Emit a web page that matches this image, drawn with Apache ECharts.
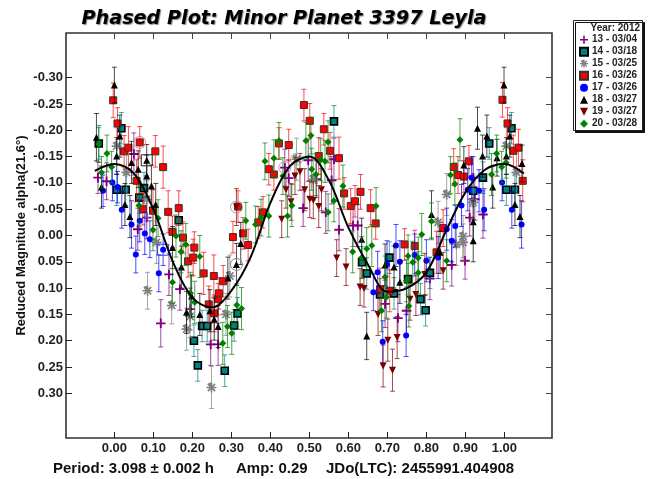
<!DOCTYPE html>
<html><head><meta charset="utf-8">
<style>html,body{margin:0;padding:0;background:#fff}#c{width:651px;height:479px;filter:blur(.35px)}</style>
<script src="https://cdn.jsdelivr.net/npm/echarts@6/dist/echarts.min.js"></script>
</head><body><div id="c"></div>
<script>
// [phase, reduced magnitude, error]
const s13 = [[-.042,-.11,.03],[-.02,-.103,.035],[.05,-.155,.04],[.06,-.012,.04],[.083,-.034,.04],[.119,.167,.045],[.14,.074,.04],[.168,.102,.04],[.194,.14,.04],[.247,.207,.04],[.266,.207,.04],[.437,-.129,.035],[.447,-.109,.035],[.484,-.052,.035],[.497,-.143,.04],[.518,-.107,.035],[.542,-.044,.04],[.557,-.105,.045],[.563,-.145,.04],[.576,-.011,.04],[.612,-.019,.04],[.624,-.019,.04],[.694,.13,.045],[.727,.157,.045],[.749,.143,.045],[.809,.082,.04],[.865,.056,.04],[.899,.048,.035],[.911,-.034,.035],[.92,-.11,.04],[.924,-.069,.04],[.945,-.04,.045]];
const s14 = [[-.04,-.175,.03],[.006,-.087,.03],[.018,-.204,.03],[.029,-.087,.03],[.064,-.072,.03],[.076,-.09,.03],[.165,-.029,.03],[.204,.2,.03],[.214,.247,.03],[.225,.172,.03],[.238,.172,.03],[.283,.257,.03],[.307,.171,.03],[.316,.148,.03],[.563,-.217,.03],[.635,.051,.03],[.647,.072,.03],[.681,.112,.03],[.705,.042,.03],[.717,.11,.03],[.753,.083,.03],[.785,.121,.03],[.798,.142,.03],[.809,.071,.03],[.92,-.085,.03],[.945,-.11,.03],[.961,-.175,.03],[1.005,-.087,.03],[1.018,-.204,.03],[1.027,-.087,.03]];
const s15 = [[.006,-.17,.035],[.031,-.12,.04],[.083,-.069,.035],[.085,.105,.035],[.108,.013,.04],[.147,.133,.035],[.185,.178,.04],[.194,.154,.04],[.249,.289,.04],[.286,.15,.04],[.296,.077,.04],[.467,-.145,.04],[.51,-.107,.04],[.83,-.025,.04],[.852,-.078,.04],[.877,.017,.04],[.894,.002,.04],[.894,.013,.035],[.92,-.063,.04],[1.005,-.17,.035],[1.031,-.12,.04]];
const s16 = [[-.003,-.257,.033],[.008,-.213,.03],[.025,-.16,.03],[.036,-.167,.04],[.057,-.104,.04],[.065,-.177,.03],[.073,-.05,.03],[.099,-.047,.04],[.105,-.16,.03],[.125,-.13,.04],[.138,-.045,.04],[.149,-.007,.03],[.165,-.052,.033],[.176,.004,.03],[.189,.049,.03],[.202,.042,.035],[.205,.023,.03],[.229,.072,.04],[.242,.131,.035],[.255,.077,.04],[.256,.148,.035],[.266,.121,.03],[.268,.11,.03],[.279,.087,.03],[.304,.003,.03],[.317,-.055,.03],[.33,-.004,.03],[.343,.018,.03],[.369,-.025,.03],[.381,-.044,.03],[.396,-.126,.03],[.409,-.116,.03],[.422,-.175,.03],[.447,-.172,.03],[.486,-.248,.03],[.501,-.218,.033],[.524,-.151,.035],[.537,-.202,.03],[.553,-.161,.035],[.576,-.147,.04],[.589,-.08,.03],[.606,-.056,.033],[.617,-.065,.03],[.631,-.083,.033],[.657,-.052,.035],[.67,-.023,.03],[.681,.102,.04],[.706,.105,.04],[.744,.017,.03],[.77,.02,.03],[.826,.032,.04],[.843,-.014,.035],[.87,-.13,.035],[.881,-.115,.035],[.896,-.112,.03],[.909,-.141,.03],[.995,-.258,.033],[1.008,-.213,.03],[1.023,-.161,.03],[1.036,-.167,.035],[1.047,-.104,.04]];
const s17 = [[-.029,-.085,.03],[-.005,-.101,.035],[.008,-.092,.03],[.019,-.049,.035],[.044,-.021,.045],[.055,.036,.035],[.065,-.028,.04],[.078,-.004,.04],[.091,.007,.035],[.114,.072,.035],[.125,.027,.03],[.664,.108,.035],[.675,.07,.04],[.688,.202,.04],[.699,.055,.045],[.722,.019,.04],[.732,.05,.04],[.748,.19,.04],[.77,.037,.04],[.80,.048,.04],[.83,.042,.04],[.852,-.012,.04],[.865,.01,.04],[.874,-.018,.04],[.89,-.057,.04],[.906,-.087,.04],[.916,-.11,.04],[.935,-.085,.04],[.948,-.049,.04],[.994,-.101,.035],[1.019,-.049,.035],[1.044,-.021,.045]];
const s18 = [[-.046,-.187,.045],[-.033,-.092,.04],[0,-.286,.034],[.006,-.151,.035],[.014,-.189,.04],[.027,-.059,.04],[.04,-.036,.04],[.044,-.139,.04],[.061,-.126,.035],[.083,-.113,.04],[.083,-.143,.03],[.095,-.094,.04],[.106,-.059,.04],[.149,.023,.04],[.172,.06,.04],[.185,.146,.04],[.198,.115,.04],[.219,.15,.04],[.245,.143,.04],[.256,.159,.04],[.266,.173,.04],[.291,.081,.04],[.313,.055,.04],[.324,.015,.04],[.634,.007,.04],[.647,.191,.045],[.694,.056,.04],[.717,.06,.04],[.732,.089,.04],[.813,-.04,.045],[.835,.032,.04],[.896,-.134,.035],[.92,-.026,.04],[.92,.01,.04],[.931,-.204,.04],[.944,-.151,.04],[.955,-.189,.04],[.97,-.092,.04],[.981,-.148,.035],[.999,-.286,.034],[1.005,-.151,.035],[1.014,-.189,.04],[1.027,-.059,.04],[1.04,-.036,.04],[1.045,-.137,.035]];
const s19 = [[.313,-.054,.035],[.429,-.031,.035],[.44,-.087,.035],[.453,-.064,.035],[.463,-.113,.035],[.476,-.121,.035],[.488,-.087,.04],[.501,-.069,.035],[.51,-.067,.035],[.524,-.055,.04],[.531,-.087,.04],[.57,.043,.035],[.594,.06,.035],[.63,.098,.035],[.64,.101,.035],[.676,.15,.04],[.689,.248,.04],[.701,.199,.04],[.713,.256,.04],[.725,.194,.04],[.758,.121,.04],[.773,.112,.04],[.796,.074,.04],[.843,.067,.035]];
const s20 = [[-.04,-.174,.035],[-.033,-.12,.03],[-.019,-.156,.035],[-.007,-.13,.03],[.063,-.057,.04],[.099,-.011,.04],[.112,-.033,.035],[.149,.089,.04],[.158,.001,.04],[.171,.031,.04],[.183,.017,.04],[.195,.11,.04],[.206,.127,.04],[.219,.04,.04],[.278,.205,.04],[.29,.173,.04],[.301,.186,.04],[.314,.132,.04],[.326,.139,.04],[.337,-.028,.035],[.362,-.021,.035],[.376,-.034,.035],[.386,-.141,.035],[.396,-.037,.04],[.409,-.147,.035],[.422,-.18,.035],[.432,-.113,.035],[.444,-.037,.04],[.455,-.057,.04],[.491,-.18,.035],[.504,-.19,.035],[.506,-.126,.04],[.517,-.116,.04],[.529,-.144,.04],[.54,-.141,.04],[.548,-.178,.04],[.548,-.044,.035],[.563,-.066,.04],[.586,-.094,.04],[.611,.031,.04],[.634,.042,.04],[.647,.025,.04],[.66,.019,.04],[.671,-.056,.035],[.685,.143,.04],[.694,.079,.04],[.698,.117,.04],[.749,.086,.04],[.753,.039,.04],[.755,.134,.04],[.765,.051,.04],[.779,.071,.04],[.779,.043,.04],[.788,-.002,.04],[.813,-.027,.035],[.852,.048,.04],[.862,-.115,.035],[.873,-.098,.04],[.886,-.182,.04],[.967,-.116,.04],[.98,-.156,.035],[.993,-.13,.03],[1.004,-.139,.03]];
const fitCurve = [[-.05,-.123],[0,-.136],[.05,-.118],[.10,-.05],[.15,.05],[.20,.118],[.25,.137],[.30,.105],[.35,.04],[.40,-.062],[.45,-.132],[.50,-.15],[.55,-.105],[.60,-.015],[.65,.055],[.70,.107],[.75,.10],[.80,.07],[.85,-.008],[.90,-.082],[.95,-.125],[1,-.136],[1.05,-.118]];
const rings = [[.065,-.177],[.313,-.054],[.467,-.145],[.437,-.129],[.313,.055]];
const ringColors = ['#f08090','#c09090','#90c090','#c890c8','#888888'];
const boxes = [[.083,-.143],[.125,.027]];
const boxColors = ['#222222','#3030ff'];
const xTicks = [0,.1,.2,.3,.4,.5,.6,.7,.8,.9,1];
const yTicks = [-.3,-.25,-.2,-.15,-.1,-.05,0,.05,.1,.15,.2,.25,.3];
const names = ['13 - 03/04','14 - 03/18','15 - 03/25','16 - 03/26','17 - 03/26','18 - 03/27','19 - 03/27','20 - 03/28'];
const colors = ['#800080','#008080','#808080','#ff0000','#0000ff','#000000','#7a0000','#008000'];
const plus = 'path://M4 0h2v4h4v2H6v4H4V6H0V4h4z';
const star = 'path://M4.2 0h1.6v3l2.3-2.2 1.1 1.1L7 4.2h3v1.6H7l2.2 2.3-1.1 1.1L5.8 7v3H4.2V7L1.9 9.2.8 8.1 3 5.8H0V4.2h3L.8 1.9 1.9.8z';
const seriesData = [s13,s14,s15,s16,s17,s18,s19,s20];
const symbols = [plus,'rect',star,'rect','circle','triangle','triangle','diamond'];
const sizes = [9.5,7,10,7,6,7,7,7];
const borders = [[0,'#800080'],[1.6,'#000'],[0,'#808080'],[1,'#333'],[0,'#000'],[0,'#000'],[0,'#000'],[0,'#000']];
const F = '"Liberation Sans", Arial, sans-serif';

function errItem(color){
  return function(params, api){
    const x = api.value(0), y = api.value(1), e = api.value(2);
    const a = api.coord([x, y-e]), b = api.coord([x, y+e]);
    const st = {stroke: color, lineWidth: 1, fill: null, opacity:.7};
    const seg = (x1,y1,x2,y2)=>({type:'line', shape:{x1,y1,x2,y2}, style:st});
    return {type:'group', children:[seg(a[0],a[1],b[0],b[1]), seg(a[0]-2.5,a[1],a[0]+2.5,a[1]), seg(b[0]-2.5,b[1],b[0]+2.5,b[1])]};
  };
}
const series = [];
seriesData.forEach((d,i)=>{
  series.push({type:'custom', name:'err'+i, renderItem:errItem(colors[i]), data:d, encode:{x:0,y:1}, z:2+i*2, silent:true, animation:false});
  series.push({type:'scatter', name:names[i], data:d.map(p=>[p[0],p[1]]), symbol:symbols[i], symbolSize:sizes[i],
    symbolRotate:i===6?180:0, itemStyle:{color:colors[i],opacity:1,borderWidth:borders[i][0],borderColor:borders[i][1]}, z:3+i*2, animation:false});
});
rings.forEach((r,i)=>series.push({type:'scatter', name:'ring'+i, data:[r], symbol:'circle', symbolSize:12, silent:true, animation:false, z:25,
  itemStyle:{color:'rgba(0,0,0,0)',borderColor:ringColors[i],borderWidth:1,opacity:1}}));
boxes.forEach((r,i)=>series.push({type:'scatter', name:'box'+i, data:[r], symbol:'rect', symbolSize:11, silent:true, animation:false, z:25,
  itemStyle:{color:'rgba(0,0,0,0)',borderColor:boxColors[i],borderWidth:1,opacity:1}}));
series.push({type:'line', name:'fit', data:fitCurve, smooth:.35, showSymbol:false, lineStyle:{color:'#000',width:2}, z:30, animation:false, silent:true});

const chart = echarts.init(document.getElementById('c'), null, {renderer:'canvas'});
const xBase = {type:'value', min:-.124, max:1.122, splitLine:{show:false}, axisLine:{show:false,onZero:false}};
const yBase = {type:'value', min:-.385, max:.385, inverse:true, splitLine:{show:false}, axisLine:{show:false,onZero:false}};
chart.setOption({
  animation:false,
  backgroundColor:'#fff',
  title:{text:'Phased Plot: Minor Planet 3397 Leyla', left:279, textAlign:'center', top:5,
    textStyle:{fontFamily:'"DejaVu Sans"', fontWeight:'bold', fontStyle:'italic', fontSize:19.2, color:'#000', textShadowColor:'rgba(0,0,0,.45)', textShadowBlur:1, textShadowOffsetX:1, textShadowOffsetY:1}},
  grid:{left:66, right:99, top:33, bottom:41, show:true, borderColor:'#333', borderWidth:1.6, backgroundColor:'#fff'},
  xAxis:[
    Object.assign({}, xBase, {position:'bottom',
      axisTick:{show:true, inside:true, length:6, lineStyle:{color:'#222',width:1}, customValues:xTicks},
      axisLabel:{show:true, margin:4, fontFamily:F, fontWeight:'bold', fontSize:13, color:'#222', customValues:xTicks, formatter:v=>v.toFixed(2)}}),
    Object.assign({}, xBase, {position:'top',
      axisTick:{show:true, inside:true, length:6, lineStyle:{color:'#444',width:1}, customValues:xTicks}, axisLabel:{show:false}})
  ],
  yAxis:[
    Object.assign({}, yBase, {position:'left', name:'Reduced Magnitude alpha(21.6°)', nameLocation:'middle', nameGap:38, nameMoveOverlap:false,
      nameTextStyle:{fontFamily:F, fontWeight:'bold', fontSize:13, color:'#111'},
      axisTick:{show:true, inside:true, length:6, lineStyle:{color:'#222',width:1}, customValues:yTicks},
      axisLabel:{show:true, margin:3, fontFamily:F, fontWeight:'bold', fontSize:13, color:'#222', customValues:yTicks, formatter:v=>v.toFixed(2)}}),
    Object.assign({}, yBase, {position:'right',
      axisTick:{show:true, inside:true, length:6, lineStyle:{color:'#444',width:1}, customValues:yTicks}, axisLabel:{show:false}})
  ],
  legend:{orient:'vertical', left:579, top:34.7, itemGap:2, itemWidth:8, itemHeight:8, padding:0, selectedMode:false,
    textStyle:{fontFamily:F, fontWeight:'bold', fontSize:10, lineHeight:10, color:'#222', padding:[0,0,0,-1]},
    data:names.map((n,i)=>({name:n, icon:i===6?'path://M0 0H10L5 10Z':symbols[i]}))},
  graphic:[
    {type:'rect', z:-1, shape:{x:573.5,y:20.5,width:69,height:110}, style:{fill:'#fff',stroke:'#222',lineWidth:1,shadowColor:'#111',shadowOffsetX:2,shadowOffsetY:2,shadowBlur:0}},
    {type:'text', x:640, y:23, style:{text:'Year: 2012', fontFamily:F, fontWeight:'bold', fontSize:10, fill:'#222', align:'right'}},
    {type:'text', x:53, y:461, style:{text:'Period: 3.098 ± 0.002 h', fontFamily:F, fontWeight:'bold', fontSize:15, fill:'#111'}},
    {type:'text', x:236, y:461, style:{text:'Amp: 0.29', fontFamily:F, fontWeight:'bold', fontSize:15, fill:'#111'}},
    {type:'text', x:326, y:461, style:{text:'JDo(LTC): 2455991.404908', fontFamily:F, fontWeight:'bold', fontSize:15, fill:'#111'}}
  ],
  series:series
});
</script></body></html>
